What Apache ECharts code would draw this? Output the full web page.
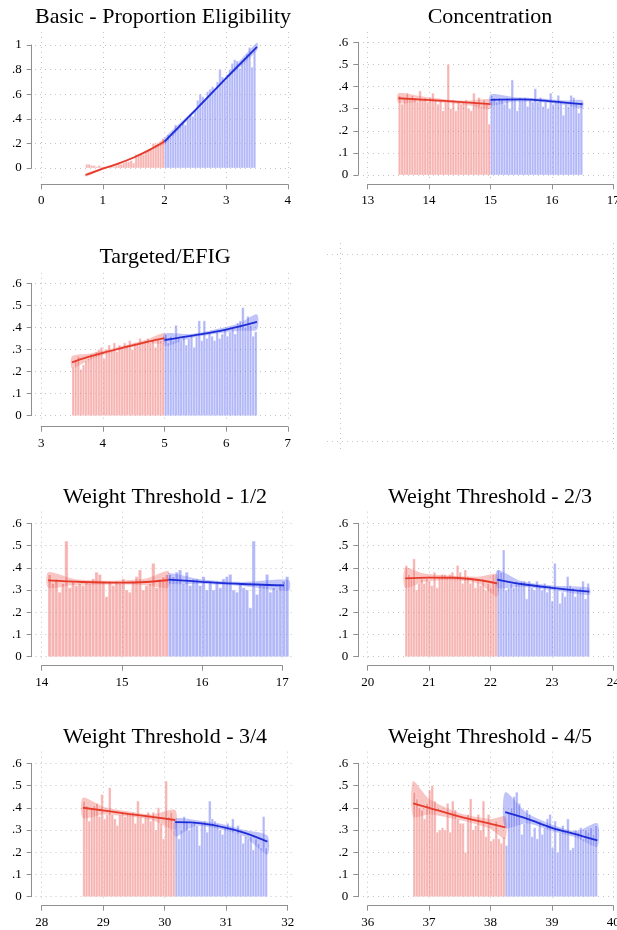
<!DOCTYPE html>
<html>
<head>
<meta charset="utf-8">
<script src="https://cdn.jsdelivr.net/npm/echarts@6/dist/echarts.min.js"></script>
<style>
html,body{margin:0;padding:0;background:#fff;}
#chart{width:617px;height:930px;}
</style>
</head>
<body>
<div id="chart"></div>
<script>
// binned means (bars), fitted lines [x,y] and confidence bands [x,lo,hi]

// Basic - Proportion Eligibility
var basicXTicks = [0, 1, 2, 3, 4];
var basicYTicks = [0, 0.2, 0.4, 0.6, 0.8, 1];
var basicCut = 2.0, basicBin = 0.04;
var basicRed = [0.03,0.03,0.02,0.02,0.01,0.02,0.01,0.01,0.00,0.01,0.02,0.01,0.02,0.03,0.03,0.04,
  0.05,0.05,0.06,0.04,0.11,0.10,0.12,0.11,0.13,0.14,0.16,0.20,0.19,0.20,0.21,0.24];
var basicBlue = [0.23,0.27,0.25,0.30,0.35,0.33,0.34,0.38,0.35,0.40,0.44,0.42,0.47,0.55,0.60,0.58,
  0.55,0.62,0.64,0.66,0.63,0.70,0.80,0.74,0.71,0.76,0.80,0.85,0.88,0.87,0.81,0.86,0.90,0.93,0.98,0.82,0.96];
var basicRedFit = [[0.72,-0.057],[1.0,-0.005],[1.25,0.035],[1.5,0.085],[1.75,0.145],[2.0,0.215]];
var basicBlueFit = [[2.0,0.215],[2.5,0.47],[3.0,0.73],[3.5,0.985]];
var basicRedBand = [[0.72,-0.07,-0.045],[1.0,-0.012,0.002],[1.5,0.078,0.092],[1.8,0.15,0.168],[2.0,0.195,0.24]];
var basicBlueBand = [[2.0,0.19,0.245],[2.5,0.458,0.482],[3.0,0.715,0.745],[3.5,0.955,1.02]];

var shareYTicks = [0, 0.1, 0.2, 0.3, 0.4, 0.5, 0.6];

// Concentration
var concXTicks = [13, 14, 15, 16, 17];
var concCut = 15, concBin = 0.0417;
var concRed = [0.36,0.32,0.35,0.37,0.34,0.36,0.35,0.33,0.38,0.34,0.35,0.33,0.35,0.37,0.34,0.32,0.34,0.29,
  0.33,0.50,0.30,0.34,0.29,0.33,0.32,0.33,0.34,0.30,0.29,0.37,0.33,0.35,0.31,0.34,0.32,0.23];
var concBlue = [0.36,0.35,0.33,0.35,0.34,0.32,0.35,0.30,0.43,0.34,0.29,0.35,0.34,0.35,0.31,0.34,0.33,0.39,
  0.33,0.35,0.31,0.33,0.30,0.37,0.32,0.33,0.36,0.33,0.27,0.32,0.31,0.36,0.35,0.33,0.28,0.33];
var concRedFit = [[13.5,0.347],[14.25,0.335],[15,0.32]];
var concBlueFit = [[15,0.34],[15.5,0.342],[16,0.333],[16.5,0.32]];
var concRedBand = [[13.5,0.325,0.37],[13.9,0.332,0.355],[14.25,0.327,0.343],[14.6,0.318,0.336],[15,0.298,0.342]];
var concBlueBand = [[15,0.315,0.365],[15.4,0.332,0.352],[15.8,0.33,0.347],[16.2,0.318,0.337],[16.5,0.302,0.338]];

// Targeted/EFIG
var targXTicks = [3, 4, 5, 6, 7];
var targCut = 5, targBin = 0.0417;
var targRed = [0.22,0.25,0.27,0.21,0.23,0.25,0.26,0.28,0.27,0.29,0.30,0.31,0.26,0.30,0.32,0.30,0.33,0.29,
  0.32,0.31,0.33,0.32,0.34,0.30,0.33,0.32,0.35,0.33,0.34,0.35,0.33,0.34,0.31,0.35,0.34,0.33];
var targBlue = [0.37,0.33,0.36,0.34,0.41,0.35,0.34,0.36,0.32,0.35,0.37,0.31,0.36,0.43,0.34,0.43,0.35,0.38,
  0.36,0.34,0.38,0.35,0.37,0.39,0.36,0.38,0.40,0.37,0.42,0.43,0.49,0.40,0.45,0.41,0.36,0.38];
var targRedFit = [[3.5,0.242],[3.75,0.265],[4.0,0.285],[4.25,0.303],[4.5,0.32],[4.75,0.337],[5,0.352]];
var targBlueFit = [[5,0.343],[5.5,0.365],[6.0,0.39],[6.5,0.425]];
var targRedBand = [[3.5,0.215,0.27],[3.8,0.255,0.282],[4.25,0.295,0.311],[4.7,0.326,0.344],[5,0.33,0.375]];
var targBlueBand = [[5,0.315,0.372],[5.4,0.35,0.37],[5.8,0.37,0.39],[6.2,0.385,0.418],[6.5,0.39,0.46]];

// Weight Threshold - 1/2
var w12XTicks = [14, 15, 16, 17];
var w12Cut = 15.58, w12Bin = 0.0417;
var w12Red = [0.37,0.33,0.35,0.29,0.33,0.52,0.31,0.34,0.32,0.33,0.32,0.34,0.33,0.35,0.38,0.37,0.34,0.27,
  0.34,0.32,0.34,0.33,0.35,0.30,0.29,0.34,0.36,0.39,0.30,0.32,0.33,0.42,0.31,0.35,0.36,0.37];
var w12Blue = [0.37,0.36,0.38,0.39,0.33,0.38,0.32,0.35,0.35,0.32,0.36,0.30,0.34,0.30,0.34,0.31,0.35,0.36,
  0.37,0.30,0.29,0.33,0.31,0.30,0.22,0.52,0.28,0.33,0.32,0.37,0.29,0.31,0.30,0.33,0.34,0.36];
var w12RedFit = [[14.08,0.343],[14.5,0.336],[15.0,0.333],[15.3,0.336],[15.58,0.345]];
var w12BlueFit = [[15.58,0.347],[16.0,0.337],[16.5,0.327],[17.08,0.32]];
var w12RedBand = [[14.08,0.31,0.38],[14.4,0.322,0.35],[14.85,0.325,0.342],[15.3,0.322,0.352],[15.58,0.31,0.385]];
var w12BlueBand = [[15.58,0.33,0.375],[16.0,0.328,0.347],[16.5,0.318,0.336],[17.08,0.298,0.345]];

// Weight Threshold - 2/3
var w23XTicks = [20, 21, 22, 23, 24];
var w23Cut = 22.11, w23Bin = 0.0417;
var w23Red = [0.41,0.37,0.35,0.44,0.30,0.33,0.35,0.33,0.35,0.34,0.32,0.38,0.31,0.36,0.37,0.37,0.36,0.37,
  0.38,0.36,0.41,0.38,0.33,0.39,0.36,0.33,0.35,0.31,0.34,0.32,0.35,0.30,0.33,0.31,0.37,0.33];
var w23Blue = [0.39,0.38,0.48,0.30,0.31,0.33,0.31,0.34,0.33,0.34,0.34,0.26,0.34,0.31,0.30,0.34,0.32,0.30,
  0.33,0.29,0.32,0.25,0.42,0.30,0.24,0.29,0.27,0.36,0.32,0.31,0.27,0.30,0.31,0.34,0.26,0.33];
var w23RedFit = [[20.61,0.352],[21.0,0.356],[21.4,0.355],[21.8,0.345],[22.11,0.33]];
var w23BlueFit = [[22.11,0.347],[22.5,0.327],[23.0,0.31],[23.61,0.293]];
var w23RedBand = [[20.61,0.31,0.40],[20.9,0.335,0.375],[21.3,0.345,0.365],[21.8,0.33,0.36],[22.11,0.27,0.37]];
var w23BlueBand = [[22.11,0.31,0.39],[22.5,0.315,0.34],[23.0,0.3,0.32],[23.61,0.278,0.31]];

// Weight Threshold - 3/4
var w34XTicks = [28, 29, 30, 31, 32];
var w34Cut = 30.17, w34Bin = 0.0417;
var w34Red = [0.43,0.41,0.34,0.40,0.41,0.42,0.36,0.46,0.35,0.37,0.49,0.37,0.35,0.32,0.37,0.38,0.36,0.38,
  0.37,0.38,0.33,0.43,0.36,0.33,0.37,0.38,0.34,0.38,0.30,0.40,0.33,0.26,0.52,0.36,0.38,0.30];
var w34Blue = [0.34,0.26,0.30,0.36,0.34,0.30,0.33,0.34,0.32,0.23,0.33,0.34,0.29,0.43,0.35,0.34,0.33,0.30,
  0.28,0.31,0.33,0.30,0.35,0.29,0.32,0.28,0.24,0.27,0.26,0.27,0.21,0.26,0.24,0.22,0.36,0.22];
var w34RedFit = [[28.67,0.40],[29.4,0.373],[30.17,0.345]];
var w34BlueFit = [[30.17,0.335],[30.6,0.33],[31.0,0.31],[31.3,0.287],[31.67,0.248]];
var w34RedBand = [[28.67,0.355,0.445],[29.0,0.37,0.405],[29.4,0.362,0.384],[29.8,0.345,0.37],[30.17,0.30,0.39]];
var w34BlueBand = [[30.17,0.27,0.35],[30.5,0.318,0.345],[31.0,0.297,0.323],[31.3,0.27,0.3],[31.67,0.19,0.275]];

// Weight Threshold - 4/5
var w45XTicks = [36, 37, 38, 39, 40];
var w45Cut = 38.24, w45Bin = 0.0417;
var w45Red = [0.47,0.44,0.40,0.39,0.35,0.42,0.48,0.50,0.43,0.29,0.30,0.31,0.30,0.42,0.29,0.43,0.39,0.35,
  0.33,0.33,0.20,0.37,0.44,0.30,0.32,0.37,0.30,0.43,0.27,0.37,0.25,0.26,0.34,0.26,0.24,0.27];
var w45Blue = [0.23,0.38,0.40,0.45,0.47,0.42,0.28,0.33,0.39,0.37,0.27,0.31,0.26,0.34,0.28,0.31,0.35,0.37,
  0.22,0.34,0.20,0.29,0.32,0.30,0.35,0.21,0.22,0.30,0.29,0.31,0.26,0.30,0.29,0.31,0.28,0.32];
var w45RedFit = [[36.74,0.42],[37.0,0.40],[37.5,0.36],[38.0,0.328],[38.24,0.312]];
var w45BlueFit = [[38.24,0.38],[38.6,0.35],[39.0,0.31],[39.4,0.28],[39.74,0.253]];
var w45RedBand = [[36.74,0.36,0.52],[37.0,0.37,0.44],[37.5,0.345,0.375],[38.0,0.305,0.35],[38.24,0.26,0.36]];
var w45BlueBand = [[38.24,0.31,0.47],[38.6,0.33,0.375],[39.0,0.295,0.325],[39.4,0.265,0.295],[39.74,0.225,0.33]];

// layout (pixels): box = tick range of each panel, plot = dotted-grid region
var panels = [
  {title:'Basic - Proportion Eligibility', tx:163, ty:6, xt:basicXTicks, yt:basicYTicks,
   box:[41.2,45,287.8,168], plot:[35,32,294,180], axisY:184.3, axisX:31.7,
   cut:basicCut, bin:basicBin, red:basicRed, blue:basicBlue,
   redFit:basicRedFit, blueFit:basicBlueFit, redBand:basicRedBand, blueBand:basicBlueBand},
  {title:'Concentration', tx:490, ty:6, xt:concXTicks, yt:shareYTicks,
   box:[367.7,42.3,613.3,175], plot:[363,32,620,180], axisY:184.3, axisX:358.3,
   cut:concCut, bin:concBin, red:concRed, blue:concBlue,
   redFit:concRedFit, blueFit:concBlueFit, redBand:concRedBand, blueBand:concBlueBand},
  {title:'Targeted/EFIG', tx:165, ty:246, xt:targXTicks, yt:shareYTicks,
   box:[41.2,283.3,287.8,415.7], plot:[35,272.7,294,422], axisY:426.7, axisX:31.7,
   cut:targCut, bin:targBin, red:targRed, blue:targBlue,
   redFit:targRedFit, blueFit:targBlueFit, redBand:targRedBand, blueBand:targBlueBand},
  {title:'Weight Threshold - 1/2', tx:165, ty:486, xt:w12XTicks, yt:shareYTicks,
   box:[41.7,523.3,282.3,656.7], plot:[35.5,511.7,293,661], axisY:665.7, axisX:31.7,
   cut:w12Cut, bin:w12Bin, red:w12Red, blue:w12Blue,
   redFit:w12RedFit, blueFit:w12BlueFit, redBand:w12RedBand, blueBand:w12BlueBand},
  {title:'Weight Threshold - 2/3', tx:490, ty:486, xt:w23XTicks, yt:shareYTicks,
   box:[367.7,523.3,613.3,656.7], plot:[363,511.7,620,661], axisY:665.7, axisX:358.3,
   cut:w23Cut, bin:w23Bin, red:w23Red, blue:w23Blue,
   redFit:w23RedFit, blueFit:w23BlueFit, redBand:w23RedBand, blueBand:w23BlueBand},
  {title:'Weight Threshold - 3/4', tx:165, ty:726, xt:w34XTicks, yt:shareYTicks,
   box:[41.7,763.3,287.7,896.7], plot:[35.5,751.7,294,901], axisY:905.7, axisX:31.7,
   cut:w34Cut, bin:w34Bin, red:w34Red, blue:w34Blue,
   redFit:w34RedFit, blueFit:w34BlueFit, redBand:w34RedBand, blueBand:w34BlueBand},
  {title:'Weight Threshold - 4/5', tx:490, ty:726, xt:w45XTicks, yt:shareYTicks,
   box:[367.7,763.3,613.3,896.7], plot:[363,751.7,620,901], axisY:905.7, axisX:358.3,
   cut:w45Cut, bin:w45Bin, red:w45Red, blue:w45Blue,
   redFit:w45RedFit, blueFit:w45BlueFit, redBand:w45RedBand, blueBand:w45BlueBand}
];
// the empty sixth cell only shows its dotted frame
var emptyPlot = [327, 243, 626, 452], emptyLinesX = [340, 613.3], emptyLinesY = [254, 441.7];

var FONT = '"Liberation Serif","Times New Roman",serif';
var AXIS_C = '#8f8f8f';
var GRID_LINE = {color:'#c4c4c4', width:1, type:[1,4]};
var RED_BAR = 'rgba(235,90,85,0.46)', BLUE_BAR = 'rgba(80,90,240,0.44)';
var RED_BAND = 'rgba(235,75,65,0.32)', BLUE_BAND = 'rgba(60,70,235,0.32)';
var RED_LINE = '#e63b2b', BLUE_LINE = '#1d2dd6';

function tickLabel(v) {
  if (v === 0) return '0';
  return String(Math.round(v * 10) / 10).replace(/^0\./, '.');
}
function binRows(start, bin, heights) {
  return heights.map(function (h, i) { return [start + i * bin, start + (i + 1) * bin, h]; });
}
function barSeries(rows, color, ai) {
  return {type:'custom', xAxisIndex:ai, yAxisIndex:ai, z:3, silent:true, data:rows,
    renderItem:function (params, api) {
      var a = api.coord([api.value(0), 0]);
      var b = api.coord([api.value(1), api.value(2)]);
      return {type:'rect', shape:{x:a[0], y:b[1], width:b[0] - a[0], height:a[1] - b[1]},
        style:{fill:color, stroke:'rgba(255,255,255,0.9)', lineWidth:0.4}};
    }};
}
function bandSeries(band, color, ai) {
  return {type:'custom', xAxisIndex:ai, yAxisIndex:ai, z:2, silent:true, data:[band[0]],
    renderItem:function (params, api) {
      var pts = band.map(function (r) { return api.coord([r[0], r[2]]); });
      for (var i = band.length - 1; i >= 0; i--) pts.push(api.coord([band[i][0], band[i][1]]));
      return {type:'polygon', shape:{points:pts, smooth:0.25}, style:{fill:color}};
    }};
}
function fitSeries(fit, color, ai) {
  return {type:'line', xAxisIndex:ai, yAxisIndex:ai, z:4, silent:true, data:fit, smooth:0.35,
    clip:false, showSymbol:false, lineStyle:{color:color, width:1.8}};
}

var grids = [], xAxes = [], yAxes = [], series = [], titles = [];
function gridAt(r) {
  return {left:r[0], top:r[1], width:r[2] - r[0], height:r[3] - r[1], outerBoundsMode:'none', containLabel:false};
}
function gridLineAxis(gi, min, max, ticks) {
  return {gridIndex:gi, type:'value', min:min, max:max, silent:true,
    axisLine:{show:false}, axisLabel:{show:false, customValues:ticks},
    axisTick:{show:false, customValues:ticks}, splitLine:{show:true, lineStyle:GRID_LINE}};
}

panels.forEach(function (p) {
  var x0 = p.xt[0], x1 = p.xt[p.xt.length - 1];
  var y1 = p.yt[p.yt.length - 1];
  var ppx = (p.box[2] - p.box[0]) / (x1 - x0);
  var ppy = (p.box[3] - p.box[1]) / y1;

  // dotted grid over the whole plot region
  var g = grids.length;
  grids.push(gridAt(p.plot));
  xAxes.push(gridLineAxis(g, x0 - (p.box[0] - p.plot[0]) / ppx, x1 + (p.plot[2] - p.box[2]) / ppx, p.xt));
  yAxes.push(gridLineAxis(g, -(p.plot[3] - p.box[3]) / ppy, y1 + (p.box[1] - p.plot[1]) / ppy, p.yt));

  // axes and data on the tick range
  var a = grids.length;
  grids.push(gridAt(p.box));
  xAxes.push({gridIndex:a, type:'value', min:x0, max:x1, interval:1, position:'bottom',
    offset:p.axisY - p.box[3],
    axisLine:{show:true, onZero:false, lineStyle:{color:AXIS_C, width:1}},
    axisTick:{show:true, length:5, lineStyle:{color:AXIS_C}},
    axisLabel:{show:true, margin:10, color:'#000', fontFamily:FONT, fontSize:13, showMinLabel:true, showMaxLabel:true},
    splitLine:{show:false}});
  yAxes.push({gridIndex:a, type:'value', min:0, max:y1, interval:p.yt[1], position:'left',
    offset:p.box[0] - p.axisX,
    axisLine:{show:true, onZero:false, lineStyle:{color:AXIS_C, width:1}},
    axisTick:{show:true, length:5, lineStyle:{color:AXIS_C}},
    axisLabel:{show:true, margin:10, color:'#000', fontFamily:FONT, fontSize:13, formatter:tickLabel,
      showMinLabel:true, showMaxLabel:true},
    splitLine:{show:false}});

  series.push(bandSeries(p.redBand, RED_BAND, a));
  series.push(bandSeries(p.blueBand, BLUE_BAND, a));
  series.push(barSeries(binRows(p.cut - p.red.length * p.bin, p.bin, p.red), RED_BAR, a));
  series.push(barSeries(binRows(p.cut, p.bin, p.blue), BLUE_BAR, a));
  series.push(fitSeries(p.redFit, RED_LINE, a));
  series.push(fitSeries(p.blueFit, BLUE_LINE, a));

  titles.push({text:p.title, left:p.tx, top:p.ty, textAlign:'center', padding:0,
    textStyle:{fontFamily:FONT, fontSize:22, fontWeight:'normal', color:'#000'}});
});

// empty cell: frame of dotted lines only
(function () {
  var g = grids.length;
  var w = emptyPlot[2] - emptyPlot[0], h = emptyPlot[3] - emptyPlot[1];
  grids.push(gridAt(emptyPlot));
  xAxes.push(gridLineAxis(g, 0, 1, emptyLinesX.map(function (v) { return (v - emptyPlot[0]) / w; })));
  yAxes.push(gridLineAxis(g, 0, 1, emptyLinesY.map(function (v) { return (emptyPlot[3] - v) / h; })));
})();

var chart = echarts.init(document.getElementById('chart'), null, {renderer:'canvas'});
chart.setOption({
  backgroundColor:'#fff',
  animation:false,
  title:titles,
  grid:grids,
  xAxis:xAxes,
  yAxis:yAxes,
  series:series
});
</script>
</body>
</html>
